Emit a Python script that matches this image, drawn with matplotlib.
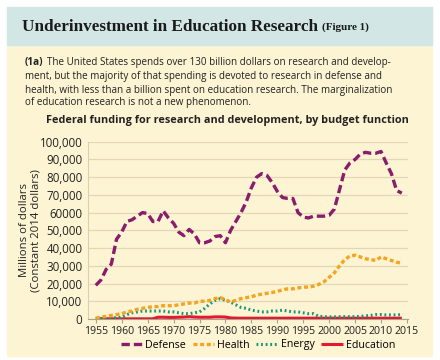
import numpy as np
import matplotlib
matplotlib.use('Agg')
import matplotlib.pyplot as plt
from matplotlib.patches import Rectangle

# Data (millions of constant 2014 dollars)
years = list(range(1955, 2015))

defense = [19, 22, 28, 31, 45, 49, 55, 56, 58, 60,
           59.5, 55, 55, 61, 57, 54, 49, 47, 50.5, 48,
           43, 43, 44, 46.5, 47, 43, 50, 55, 60, 66,
           74, 80, 82, 81, 77, 72, 68.5, 68, 68, 60,
           57.5, 57, 58, 58, 58, 58.5, 62, 73, 84, 88,
           90, 93, 94, 93.5, 93.5, 94.5, 88, 82, 72.5, 71]
health = [0.5, 1, 1.5, 2, 2.5, 3, 4, 4.5, 5.5, 6,
          6.5, 7, 7, 7.5, 7.5, 7.5, 8, 8.5, 9, 9,
          10, 10, 10.5, 11.5, 12, 11, 9.5, 10.5, 11.5, 12,
          12.5, 13.5, 14, 14.5, 15, 15.5, 16.5, 17, 17, 17.5,
          18, 18, 18.5, 19.5, 21, 23.5, 26, 30, 33.5, 35.5,
          36, 35, 34, 33.5, 33, 35, 34, 33, 32, 31.5]
energy = [0.2, 0.3, 0.4, 0.5, 0.8, 1, 2.5, 3.5, 4, 4.5,
          4.5, 4.5, 4.5, 4.5, 4, 4, 3.5, 3, 3, 3.5,
          4, 6, 8.5, 10.5, 11.5, 10.5, 9.5, 8, 6.5, 6,
          5, 4.5, 4, 4, 4.5, 4.5, 5, 4.5, 4, 4,
          3.5, 3, 3, 1.5, 1.3, 1.2, 1.2, 1.3, 1.3, 1.3,
          1.3, 1.5, 1.8, 2, 2.5, 2.5, 2.3, 2.3, 2.3, 2.5]
education = [0.1] * 12 + [1.0, 1.0, 0.9, 0.9, 1.0, 1.1, 1.3, 1.1,
                          1.0, 1.0, 1.0, 1.2, 1.2, 1.1, 0.6, 0.5] + [0.45] * 32

ytick_vals = list(range(0, 100001, 10000))
ytick_labels = ['0', '10,000', '20,000', '30,000', '40,000', '50,000',
                '60000', '70,000', '80,000', '90,000', '100,000']
xtick_vals = list(range(1955, 2016, 5))

purple = '#8a1c6c'
orange = '#f6a31e'
teal = '#17977a'
red = '#e3192f'
cream = '#fdf4d3'
blue = '#d3e6e6'

font = 'Open Sans'
txtc = '#222222'

fig = plt.figure(figsize=(4.4, 3.6), dpi=100)
W, H = 440.0, 360.0

# background panels
fig.patches.append(Rectangle((7 / W, 1 - 356 / H), 425 / W, 311 / H,
                             transform=fig.transFigure, color=cream, zorder=-5))
fig.patches.append(Rectangle((7 / W, 1 - 45 / H), 425 / W, 38 / H,
                             transform=fig.transFigure, color=blue, zorder=-5))

# header
t1 = fig.text(22 / W, 1 - 27 / H, 'Underinvestment in Education Research',
              fontsize=12.3, fontweight='bold', family='Liberation Serif',
              va='center', color='#1a1a1a')
fig.canvas.draw()
bb = t1.get_window_extent()
fig.text(bb.x1 / W + 4 / W, 1 - 27.5 / H, '(Figure 1)', fontsize=8,
         fontweight='bold', family='Liberation Serif', va='center', color='#1a1a1a')

# intro paragraph
lines = ['The United States spends over 130 billion dollars on research and develop-',
         'ment, but the majority of that spending is devoted to research in defense and',
         'health, with less than a billion spent on education research. The marginalization',
         'of education research is not a new phenomenon.']
ys = [62, 76, 90, 103]
p = fig.text(25 / W, 1 - ys[0] / H, '(1a)', fontsize=7.2, fontweight='bold',
             family=font, va='center', color=txtc)
fig.canvas.draw()
px = p.get_window_extent().x1 + 3
fig.text(px / W, 1 - ys[0] / H, lines[0], fontsize=7.1, family=font,
         va='center', color=txtc)
for ln, y in zip(lines[1:], ys[1:]):
    fig.text(25 / W, 1 - y / H, ln, fontsize=7.1, family=font,
             va='center', color=txtc)

fig.text(227 / W, 1 - 121 / H,
         'Federal funding for research and development, by budget function',
         fontsize=7.8, fontweight='bold', family=font, ha='center', va='center',
         color=txtc)

# chart
ax = fig.add_axes([88 / W, 1 - 319 / H, 320 / W, (319 - 141.7) / H])
ax.set_facecolor('none')
yrs = np.array(years)
ax.plot(yrs, np.array(education) * 1000, color=red, lw=2.2, solid_capstyle='butt',
        label='Education', zorder=3)
ax.plot(yrs, np.array(energy) * 1000, color=teal, lw=2.2, linestyle=(0, (0.6, 0.9)),
        label='Energy', zorder=4)
ax.plot(yrs, np.array(health) * 1000, color=orange, lw=2.4, linestyle=(0, (1.2, 0.8)),
        label='Health', zorder=5)
ax.plot(yrs, np.array(defense) * 1000, color=purple, lw=2.4, linestyle=(0, (2.5, 1.2)),
        label='Defense', zorder=6)

ax.set_xlim(1953.5, 2015.2)
ax.set_ylim(0, 100000)
ax.set_yticks(ytick_vals)
ax.set_yticklabels(ytick_labels)
ax.set_xticks(xtick_vals)
ax.grid(axis='y', color='#e2d8b8', lw=0.9)
ax.set_axisbelow(True)
for s in ['top', 'right']:
    ax.spines[s].set_visible(False)
ax.spines['left'].set_color('#d8d0b4')
ax.spines['bottom'].set_color('#a8a390')
ax.tick_params(axis='y', length=0, pad=4, labelsize=8.3, labelcolor=txtc)
ax.tick_params(axis='x', length=3, color='#a8a390', pad=2, labelsize=7.6,
               labelcolor=txtc)
for lab in ax.get_xticklabels() + ax.get_yticklabels():
    lab.set_family(font)
ax.set_ylabel('Millions of dollars\n(Constant 2014 dollars)', fontsize=8.2,
              family=font, color=txtc, labelpad=-1, linespacing=1.0)

h, l = ax.get_legend_handles_labels()
order = [3, 2, 1, 0]
fig.legend([h[i] for i in order], [l[i] for i in order], loc='center',
           bbox_to_anchor=(258 / W, 1 - 345 / H), ncol=4, frameon=False,
           prop={'family': font, 'size': 7.7}, handlelength=2.0,
           columnspacing=0.6, handletextpad=0.3)

fig.savefig('out.png', dpi=100, facecolor='white')
